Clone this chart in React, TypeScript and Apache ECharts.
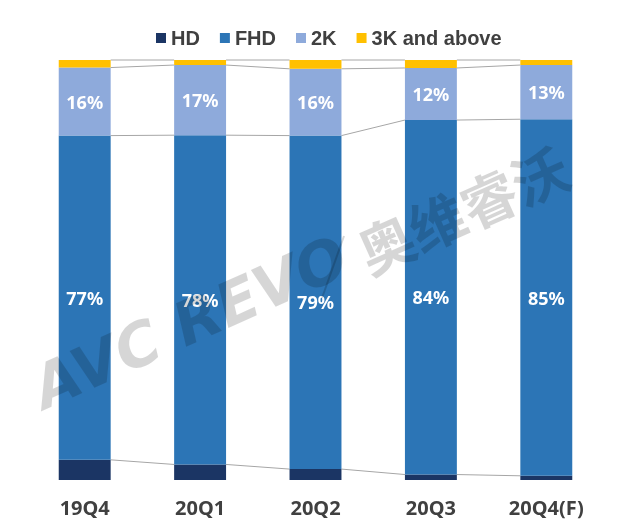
import React, { useEffect, useRef } from "react";
import * as echarts from "echarts";

const categories = ["19Q4", "20Q1", "20Q2", "20Q3", "20Q4(F)"];
const seriesNames = ["HD", "FHD", "2K", "3K and above"];
const hdValues = [4.8, 3.7, 2.6, 1.3, 1.0];
const fhdValues = [77.2, 78.4, 79.4, 84.4, 84.9];
const k2Values = [16.2, 16.7, 15.9, 12.4, 12.9];
const k3Values = [1.8, 1.2, 2.1, 1.9, 1.2];
const colors = ["#1b3564", "#2c75b6", "#8eaadb", "#ffc000"];
const showLabels = [false, true, true, false];

export default function App() {
  const ref = useRef<HTMLDivElement>(null);
  useEffect(() => {
    if (!ref.current) return;
    const chart = echarts.init(ref.current, null, { renderer: "svg" });
    const all = [hdValues, fhdValues, k2Values, k3Values];
    const cum: number[][] = [];
    let running = categories.map(() => 0);
    all.forEach((arr) => {
      running = running.map((v, i) => v + arr[i]);
      cum.push(running.slice());
    });
    const connectorData: number[][] = [];
    cum.forEach((c) => {
      for (let i = 0; i < categories.length - 1; i++) {
        connectorData.push([i, c[i], c[i + 1]]);
      }
    });
    const barSeries = all.map((arr, k) => ({
      name: seriesNames[k],
      type: "bar",
      stack: "total",
      barWidth: "45%",
      data: arr,
      itemStyle: { color: colors[k] },
      label: {
        show: showLabels[k],
        position: "inside",
        color: "#ffffff",
        fontFamily: "Noto Sans",
        fontWeight: "bold",
        fontSize: 18,
        formatter: (p: any) => Math.round(p.value) + "%",
      },
      z: 3,
    }));
    chart.setOption({
      animation: false,
      legend: {
        top: 23,
        left: 151,
        itemWidth: 10,
        itemHeight: 10,
        itemGap: 20,
        icon: "rect",
        data: seriesNames,
        textStyle: {
          color: "#404040",
          fontFamily: "Liberation Sans",
          fontWeight: "bold",
          fontSize: 20,
        },
      },
      grid: { left: 27, right: 28, top: 60, bottom: 43 },
      xAxis: {
        type: "category",
        data: categories,
        axisLine: { show: false },
        axisTick: { show: false },
        axisLabel: {
          margin: 17,
          color: "#404040",
          fontFamily: "Noto Sans",
          fontWeight: "bold",
          fontSize: 20,
        },
      },
      yAxis: {
        type: "value",
        min: 0,
        max: 100,
        show: false,
        splitLine: { show: false },
      },
      series: [
        ...barSeries,
        {
          type: "custom",
          name: "connectors",
          data: connectorData,
          encode: { x: 0, y: 1 },
          z: 2,
          renderItem: (params: any, api: any) => {
            const idx = api.value(0);
            const p1 = api.coord([idx, api.value(1)]);
            const p2 = api.coord([idx + 1, api.value(2)]);
            const band = api.size([1, 0])[0];
            const hw = band * 0.225;
            return {
              type: "line",
              shape: { x1: p1[0] + hw, y1: p1[1], x2: p2[0] - hw, y2: p2[1] },
              style: { stroke: "#a6a6a6", lineWidth: 1 },
            };
          },
        },
      ],
      graphic: [
        {
          type: "text",
          x: 190,
          y: 322,
          rotation: 0.42,
          z: 100,
          style: {
            text: "AVC REVO",
            fill: "rgba(0,0,0,0.16)",
            font: "italic bold 60px 'DejaVu Sans'",
            align: "center",
            verticalAlign: "middle",
          },
        },
        {
          type: "line",
          z: 100,
          shape: { x1: 322, y1: 298, x2: 344, y2: 236 },
          style: { stroke: "rgba(0,0,0,0.16)", lineWidth: 2 },
        },
        {
          type: "text",
          x: 462,
          y: 208,
          rotation: 0.42,
          z: 100,
          style: {
            text: "奥维睿沃",
            fill: "rgba(0,0,0,0.16)",
            font: "bold 56px 'Noto Sans CJK SC'",
            align: "center",
            verticalAlign: "middle",
          },
        },
      ],
    });
    return () => chart.dispose();
  }, []);
  return (
    <div
      ref={ref}
      style={{ position: "fixed", left: 0, top: 0, width: 632, height: 523 }}
    />
  );
}
